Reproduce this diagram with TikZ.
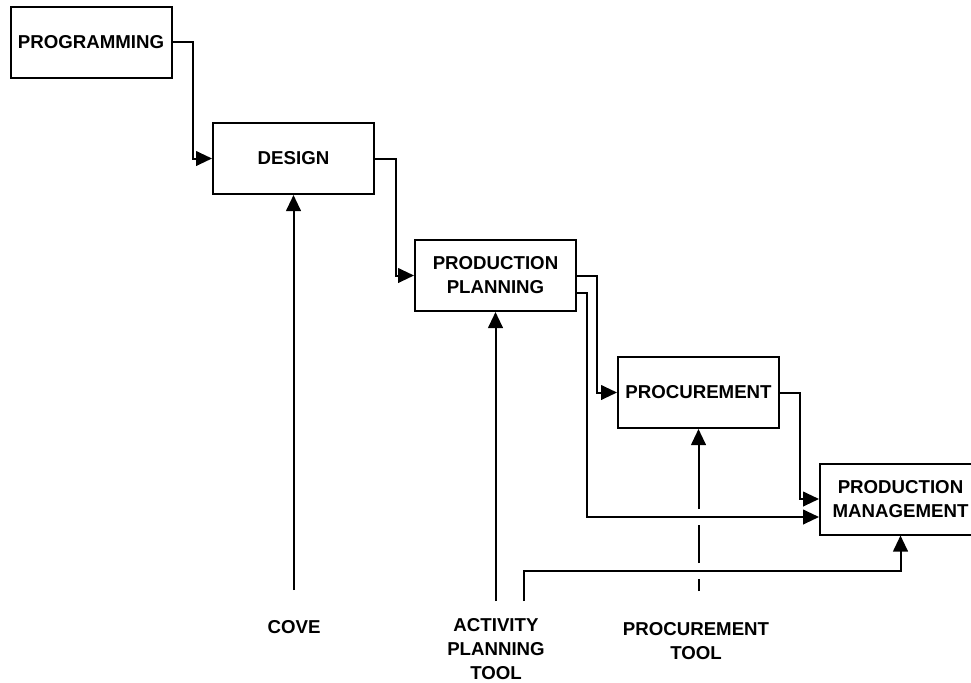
\documentclass[tikz,border=0pt]{standalone}
\usepackage{fontspec}
\setmainfont{Liberation Sans}
\usetikzlibrary{arrows.meta}

\begin{document}
\begin{tikzpicture}[x = 0.75pt, y = -0.75pt]
		\tikzset{block/.style={shape = rectangle, draw, line width = 1.5pt, minimum width = 120.75pt, minimum height = 53.25pt, inner sep = 0pt, align = center, font = \fontsize{14}{18}\selectfont\bfseries}}
		\tikzset{tool/.style={align = center, inner sep = 0pt, font = \fontsize{14}{18}\selectfont\bfseries}}
		\tikzset{edge/.style={-{Triangle[length = 12pt, width = 11pt]}, line width = 1.5pt}}
					\useasboundingbox (0, 0) rectangle (971, 682);
					%blocks
					\node[block] (prog) at (91, 42) {PROGRAMMING};
					\node[block] (design) at (293.5, 158.5) {DESIGN};
					\node[block] (pp) at (495.5, 275.5) {PRODUCTION\\PLANNING};
					\node[block] (proc) at (698.5, 392.5) {PROCUREMENT};
					\node[block] (pm) at (900.5, 499) {PRODUCTION\\MANAGEMENT};
					%tools
					\node[tool] (cove) at (294, 627) {COVE};
					\node[tool] (apt) at (496, 649) {ACTIVITY\\PLANNING\\TOOL};
					\node[tool] (pt) at (696, 641) {PROCUREMENT\\TOOL};
					\coordinate (cove in) at (293.5, 590);
					\coordinate (apt in) at (495.5, 601);
					\coordinate (apt out) at (524, 601);
					\coordinate (pt in) at (698.5, 591);
					%edges
					\draw[edge] (prog.east) -- ++(20, 0) |- (design.west);
					\draw[edge] (design.east) -- ++(21, 0) |- (pp.west);
					\draw[edge] (pp.east) -- ++(20, 0) |- (proc.west);
					\draw[edge] ([yshift = -13pt]pp.east) -- ++(10, 0) |- ([yshift = -13.5pt]pm.west);
					\draw[edge] (proc.east) -- ++(20, 0) |- (pm.west);
					\draw[edge] (cove in) -- (design.south);
					\draw[edge] (apt in) -- (pp.south);
					\draw[edge] (apt out) -- ++(0, -30) -| (pm.south);
					\draw[edge] (pt in) -- ++(0, -12) ++(0, -16) -- ++(0, -38) ++(0, -16) -- (proc.south);
					
					\end{tikzpicture}
\end{document}
